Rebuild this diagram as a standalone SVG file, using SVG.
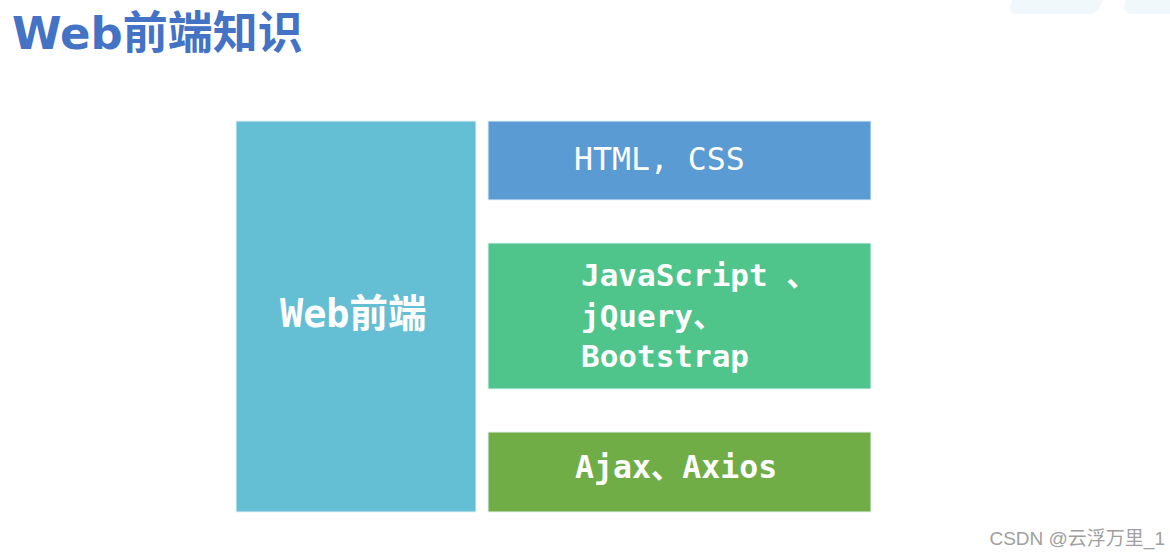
<svg xmlns="http://www.w3.org/2000/svg" width="1170" height="557" viewBox="0 0 1170 557">
  <style>
    .box { stroke: #e8f4f8; stroke-width: 1; }
    .mono { font-family: "DejaVu Sans Mono", "Noto Sans CJK SC", monospace; fill: #ffffff; }
    .b { font-weight: bold; }
  </style>
  <rect x="0" y="0" width="1170" height="557" fill="#ffffff"/>
  <g id="decor">
    <path d="M1012 0 H1104 L1098 10 Q1095 14 1090 14 H1018 Q1010 14 1010 8 Z" fill="#f1f8fb"/>
    <path d="M1125 0 H1170 V14 H1133 Q1124 14 1124 8 Z" fill="#f1f8fb"/>
  </g>
  <text id="title" x="12" y="49" font-family="DejaVu Sans, Noto Sans CJK SC, sans-serif" font-weight="bold" font-size="45" fill="#4472c4">Web前端知识</text>
  <g id="node-web">
    <rect class="box" x="236" y="121" width="240" height="391" fill="#64bfd5"/>
    <text class="mono b" x="280" y="327" font-size="38.5">Web前端</text>
  </g>
  <g id="node-html">
    <rect class="box" x="488" y="121" width="383" height="79" fill="#5b9bd3"/>
    <text class="mono" x="574" y="170" font-size="31.5">HTML, CSS</text>
  </g>
  <g id="node-js">
    <rect class="box" x="488" y="243" width="383" height="146" fill="#4fc58b"/>
    <text class="mono b" font-size="31">
      <tspan x="581" y="286">JavaScript 、</tspan>
      <tspan x="581" y="327">jQuery、</tspan>
      <tspan x="581" y="367">Bootstrap</tspan>
    </text>
  </g>
  <g id="node-ajax">
    <rect class="box" x="488" y="432" width="383" height="80" fill="#70ad47"/>
    <text class="mono b" x="575" y="478" font-size="31.5">Ajax、Axios</text>
  </g>
  <g id="connectors"></g>
  <text id="watermark" x="1165" y="545" text-anchor="end" font-family="Liberation Sans, Noto Sans CJK SC, sans-serif" font-size="19" fill="#a0a0a0">CSDN @云浮万里_1</text>
</svg>
